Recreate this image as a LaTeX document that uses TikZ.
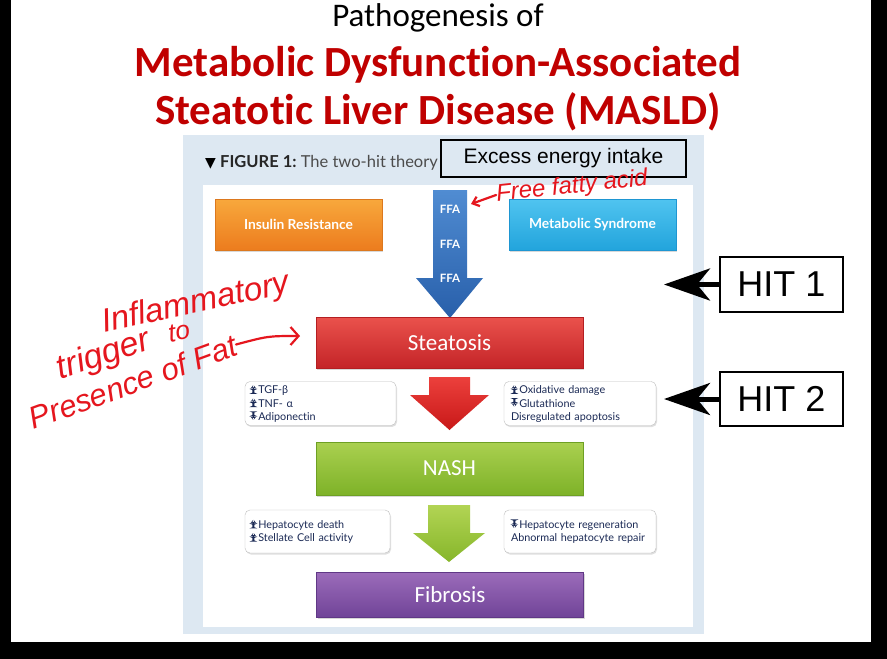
\documentclass[tikz,border=0pt]{standalone}
\usepackage{fontspec}
\setmainfont{Carlito}[Ligatures=NoCommon]
\newfontfamily\arialf{Liberation Sans}
\newfontfamily\dejavuf{DejaVu Sans}
\newfontfamily\latof{Lato}[Ligatures=NoCommon]
\newfontfamily\handf{Liberation Sans}
\usetikzlibrary{arrows.meta,shadows}
\definecolor{panelblue}{HTML}{DDE8F2}
\definecolor{titlered}{HTML}{C00000}
\definecolor{handred}{HTML}{E5161E}
\definecolor{navy}{HTML}{1B2A55}
\definecolor{orB}{RGB}{220,120,30}
\definecolor{orT}{RGB}{248,168,60}
\definecolor{orD}{RGB}{236,124,30}
\definecolor{cyB}{RGB}{30,150,210}
\definecolor{cyT}{RGB}{80,196,240}
\definecolor{cyD}{RGB}{34,164,220}
\definecolor{blT}{RGB}{80,140,210}
\definecolor{blD}{RGB}{40,95,170}
\definecolor{rdB}{RGB}{180,30,34}
\definecolor{rdT}{RGB}{234,82,76}
\definecolor{rdD}{RGB}{196,36,40}
\definecolor{grB}{RGB}{110,160,36}
\definecolor{grT}{RGB}{170,208,80}
\definecolor{grD}{RGB}{126,178,40}
\definecolor{puB}{RGB}{96,56,134}
\definecolor{puT}{RGB}{156,108,186}
\definecolor{puD}{RGB}{112,68,152}
\definecolor{raT}{RGB}{236,64,60}
\definecolor{raD}{RGB}{200,24,24}
\definecolor{gaT}{RGB}{178,212,84}
\definecolor{gaD}{RGB}{134,182,42}
\newcommand\myup{\tikz[baseline=0pt]{\fill[navy] (2.4pt,0pt) rectangle (4.4pt,5pt);
  \fill[navy] (0pt,4.5pt) -- (3.4pt,9pt) -- (6.8pt,4.5pt) -- cycle;}\kern1.5pt}
\newcommand\mydn{\tikz[baseline=0pt]{\fill[navy] (2.4pt,4pt) rectangle (4.4pt,9pt);
  \fill[navy] (0pt,4.5pt) -- (3.4pt,0pt) -- (6.8pt,4.5pt) -- cycle;}\kern1.5pt}
\begin{document}
\begin{tikzpicture}[x=1pt,y=-1pt,
  mainbox/.style={draw=#1, line width=0.6pt, minimum width=267pt, text=white,
    font=\fontsize{23}{26}\selectfont, drop shadow={shadow xshift=1pt,shadow yshift=-1.5pt,opacity=.3}},
  topbox/.style={draw=#1, line width=0.5pt, minimum width=167pt, minimum height=51pt, text=white,
    font=\latof\bfseries\fontsize{13.8}{15}\selectfont, drop shadow={shadow xshift=1pt,shadow yshift=-1.5pt,opacity=.3}},
  sidebox/.style={draw=black!25, rounded corners=5pt, fill=white, minimum height=43pt,
    align=left, text=navy, font=\latof\fontsize{10.8}{13.2}\selectfont,
    drop shadow={shadow xshift=1pt,shadow yshift=-1.5pt,opacity=.25}},
  hitbox/.style={draw=black, line width=1.5pt, fill=white, minimum width=123pt, minimum height=55pt,
    font=\arialf\fontsize{36}{40}\selectfont},
  hitarrow/.style={line width=5pt, -{Stealth[length=46pt,width=32pt,inset=13pt]}},
  hand/.style={text=handred, font=\handf\itshape\fontsize{#1}{#1}\selectfont, inner sep=0pt},
  handline/.style={draw=handred, line width=2.2pt, line cap=round, line join=round},
  ffa/.style={text=white, font=\latof\bfseries\fontsize{11.5}{13}\selectfont}
]
\useasboundingbox (0,0) rectangle (887,659);
\fill[black] (0,0) rectangle (887,659);
\fill[white] (11,0) rectangle (871,642);
% figure panel
\fill[panelblue] (183,135) rectangle (704,634);
\fill[white] (203,185) rectangle (693,627);

% titles
\node[anchor=base, font=\fontsize{33}{36}\selectfont] (t1) at (438,26) {Pathogenesis of};
\node[anchor=base, text=titlered, font=\bfseries\fontsize{43}{46}\selectfont] (t2) at (438,76) {Metabolic Dysfunction-Associated};
\node[anchor=base, text=titlered, font=\bfseries\fontsize{43}{46}\selectfont] (t3) at (438,124) {Steatotic Liver Disease (MASLD)};

% caption
\node[anchor=base west, inner sep=0pt, font=\latof\fontsize{16.5}{18}\selectfont] (cap) at (205,167)
  {{\dejavuf\fontsize{14}{16}\selectfont ▼}\ {\bfseries\color{black!85}FIGURE 1:}\ {\color{black!70}The two-hit theory}};

\node[draw=black, line width=2pt, fill=panelblue, minimum width=245pt, minimum height=37pt,
  font=\arialf\fontsize{21}{24}\selectfont] (excess) at (563.5,158.5) {Excess energy intake};

% top boxes
\node[topbox=orB, top color=orT, bottom color=orD] (ir) at (298.5,224.5) {Insulin Resistance};
\node[topbox=cyB, top color=cyT, bottom color=cyD] (ms) at (592.5,224.5) {Metabolic Syndrome};

% FFA arrow
\shade[top color=blT, bottom color=blD]
  (433,190) -- (467,190) -- (467,278) -- (483,278) -- (450,318) -- (416,278) -- (433,278) -- cycle;
\node[ffa] (f1) at (450,209) {FFA};
\node[ffa] (f2) at (450,244) {FFA};
\node[ffa] (f3) at (450,278) {FFA};

% main boxes
\node[mainbox=rdB, minimum height=51pt, top color=rdT, bottom color=rdD] (st) at (449.5,342.5) {Steatosis};
\node[mainbox=grB, minimum height=53pt, top color=grT, bottom color=grD] (nash) at (449.5,468.5) {NASH};
\node[mainbox=puB, minimum height=45pt, top color=puT, bottom color=puD] (fib) at (450,594.5) {Fibrosis};

% red arrow
\shade[top color=raT, bottom color=raD]
  (429,377) -- (470,377) -- (470,395) -- (489,395) -- (449.5,430) -- (410,395) -- (429,395) -- cycle;
% green arrow
\shade[top color=gaT, bottom color=gaD]
  (428,505) -- (470,505) -- (470,533) -- (485,533) -- (449,562) -- (413,533) -- (428,533) -- cycle;

% side boxes
\node[sidebox, minimum width=151pt, text width=141pt] (s1) at (320.5,403.5)
  {\myup TGF-β\\\myup TNF- α\\\mydn Adiponectin};
\node[sidebox, minimum width=152pt, text width=138pt] (s2) at (580,403.5)
  {\myup Oxidative damage\\\mydn Glutathione\\Disregulated apoptosis};
\node[sidebox, minimum width=145pt, text width=135pt] (s3) at (317.5,531.5)
  {\myup Hepatocyte death\\\myup Stellate Cell activity};
\node[sidebox, minimum width=152pt, text width=138pt] (s4) at (580,531.5)
  {\mydn Hepatocyte regeneration\\Abnormal hepatocyte repair};

% HIT labels
\node[hitbox] (hit1) at (781.5,284.5) {HIT 1};
\node[hitbox, minimum height=54pt] (hit2) at (781.5,399) {HIT 2};
\coordinate (h1tip) at (664,284.5);
\coordinate (h2tip) at (664,399);
\draw[hitarrow] (hit1.west) -- (h1tip);
\draw[hitarrow] (hit2.west) -- (h2tip);

% handwritten notes
\node[hand=24, rotate=6] (ffanote) at (572,187) {Free fatty acid};
\coordinate (ffatip) at (471,204);
\draw[handline, -{Straight Barb[length=6pt,width=10pt]}] (ffanote.west) -- (ffatip);
\node[hand=33, rotate=12] (infl) at (196,304) {Inflammatory};
\node[hand=34, rotate=18] (trig) at (104,356) {trigger};
\node[hand=26, rotate=10] (to) at (179,332) {to};
\node[hand=31, rotate=20] (pres) at (133,382) {Presence of Fat};
\coordinate (sttip) at (300,336);
\draw[handline, -{Straight Barb[length=8pt,width=18pt]}] (pres.east) .. controls (268,336) .. (sttip);
\end{tikzpicture}
\end{document}
